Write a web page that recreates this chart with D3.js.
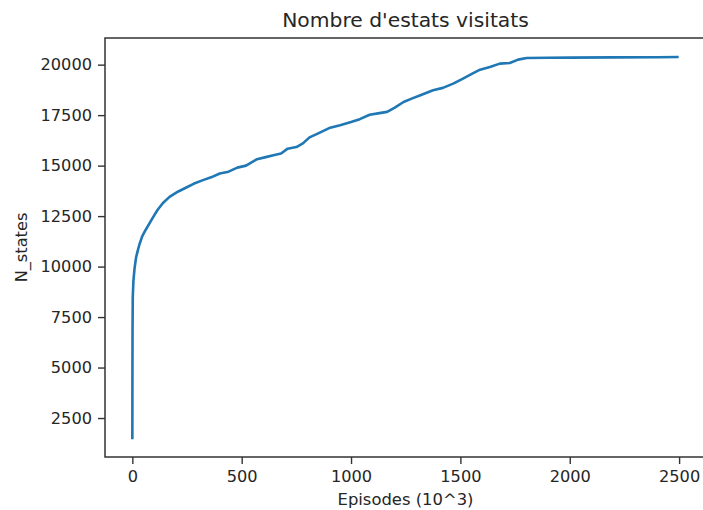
<!DOCTYPE html>
<html>
<head>
<meta charset="utf-8">
<script src="https://cdn.jsdelivr.net/npm/d3@7"></script>
<style>
    body { margin: 0; background: #fff; }
    text { font-family: "DejaVu Sans", sans-serif; fill: #262626; }
</style>
</head>
<body>
<div id="chart"></div>
<script>
// episodes (10^3) and number of visited states
const episodes = [0, 0.5, 1, 2, 5, 10, 17, 25, 32, 45, 60, 75, 95, 115, 140, 170, 210, 240, 280, 320,
    360, 400, 440, 480, 520, 570, 610, 650, 680, 710, 750, 780, 810, 850, 900, 950, 1000, 1040,
    1085, 1130, 1165, 1200, 1240, 1280, 1320, 1375, 1420, 1467, 1512, 1550, 1590, 1635, 1680,
    1726, 1764, 1803, 1900, 2000, 2200, 2400, 2498];
const nStates = [1450, 5000, 7000, 8500, 9300, 9900, 10450, 10800, 11080, 11500, 11800, 12080, 12450,
    12800, 13150, 13450, 13720, 13880, 14100, 14270, 14420, 14610, 14700, 14900, 15000, 15320,
    15420, 15530, 15600, 15840, 15920, 16100, 16400, 16600, 16860, 17000, 17160, 17300, 17520,
    17600, 17660, 17870, 18150, 18330, 18500, 18730, 18850, 19060, 19310, 19530, 19750, 19880,
    20050, 20080, 20250, 20326, 20340, 20350, 20360, 20370, 20378];
const xTicks = [0, 500, 1000, 1500, 2000, 2500];
const yTicks = [2500, 5000, 7500, 10000, 12500, 15000, 17500, 20000];

const width = 703, height = 510;
const mLeft = 105, mRight = 706, mTop = 38, mBottom = 457;

const svg = d3.select("#chart").append("svg")
    .attr("width", width)
    .attr("height", height);

const x = d3.scaleLinear().domain([-125, 2623]).range([mLeft, mRight]);
const y = d3.scaleLinear().domain([570, 21320]).range([mBottom, mTop]);

const data = episodes.map((e, i) => [e, nStates[i]]);

svg.append("path")
    .datum(data)
    .attr("fill", "none")
    .attr("stroke", "#1f77b4")
    .attr("stroke-width", 2.6)
    .attr("stroke-linejoin", "round")
    .attr("d", d3.line().x(d => x(d[0])).y(d => y(d[1])));

const xAxis = svg.append("g")
    .attr("transform", `translate(0,${mBottom})`)
    .call(d3.axisBottom(x).tickValues(xTicks).tickFormat(d3.format("d")).tickSize(7).tickPadding(6));

const yAxis = svg.append("g")
    .attr("transform", `translate(${mLeft},0)`)
    .call(d3.axisLeft(y).tickValues(yTicks).tickFormat(d3.format("d")).tickSize(7).tickPadding(6));

[xAxis, yAxis].forEach(g => {
    g.select(".domain").remove();
    g.selectAll(".tick line").attr("stroke", "#333").attr("stroke-width", 1.4);
    g.selectAll(".tick text")
        .attr("font-family", "DejaVu Sans")
        .attr("font-size", 16.2)
        .attr("fill", "#262626");
});

// spines
svg.append("rect")
    .attr("x", mLeft)
    .attr("y", mTop)
    .attr("width", mRight - mLeft)
    .attr("height", mBottom - mTop)
    .attr("fill", "none")
    .attr("stroke", "#333")
    .attr("stroke-width", 1.5);

svg.append("text")
    .attr("x", (mLeft + mRight) / 2)
    .attr("y", 27)
    .attr("text-anchor", "middle")
    .attr("font-size", 20.3)
    .text("Nombre d'estats visitats");

svg.append("text")
    .attr("x", (mLeft + mRight) / 2)
    .attr("y", 505)
    .attr("text-anchor", "middle")
    .attr("font-size", 16.4)
    .text("Episodes (10^3)");

svg.append("text")
    .attr("transform", `translate(27,${(mTop + mBottom) / 2}) rotate(-90)`)
    .attr("text-anchor", "middle")
    .attr("font-size", 16.2)
    .text("N_states");
</script>
</body>
</html>
